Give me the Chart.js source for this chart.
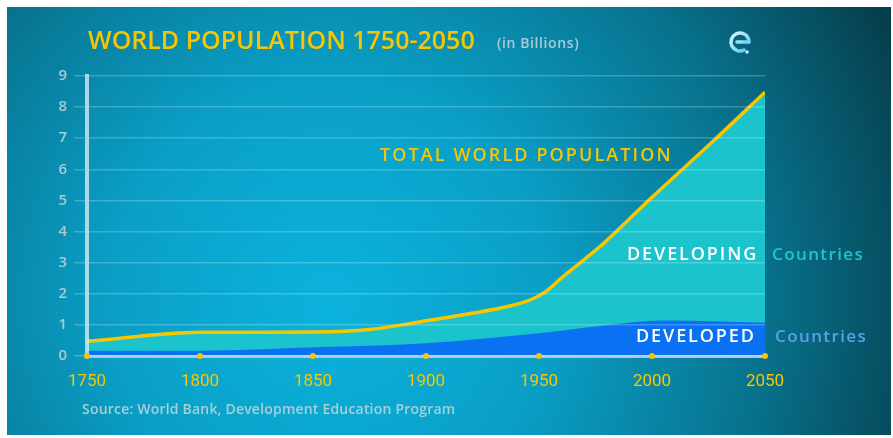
<!DOCTYPE html>
<html>
<head>
<meta charset="utf-8">
<script src="https://cdn.jsdelivr.net/npm/chart.js@4.4.0/dist/chart.umd.min.js"></script>
<style>
  html, body { margin: 0; padding: 0; background: #fff; }
  #wrap { width: 893px; height: 438px; }
</style>
</head>
<body>
<div id="wrap"><canvas id="popChart" width="893" height="438"></canvas></div>
<script>
// tahun dan nilai (miliar jiwa)
var totalYears = [1750, 1800, 1850, 1876, 1900, 1921, 1936, 1946, 1953, 1959, 1970, 1978, 2000, 2027, 2050];
var totalValues = [0.47, 0.76, 0.77, 0.86, 1.13, 1.38, 1.59, 1.8, 2.07, 2.45, 3.1, 3.58, 5.1, 6.9, 8.48];

var developedYears = [1750, 1800, 1850, 1900, 1950, 1978, 2005, 2050];
var developedValues = [0.17, 0.17, 0.28, 0.41, 0.73, 0.97, 1.14, 1.07];

var xTicks = [1750, 1800, 1850, 1900, 1950, 2000, 2050];
var yTicks = [0, 1, 2, 3, 4, 5, 6, 7, 8, 9];

function toPoints(xs, ys) {
    return xs.map(function (x, i) { return { x: x, y: ys[i] }; });
}

// latar belakang gradasi biru
var backgroundPlugin = {
    id: "bg",
    beforeDraw: function (chart) {
        var ctx = chart.ctx;
        ctx.save();
        ctx.fillStyle = "#ffffff";
        ctx.fillRect(0, 0, chart.width, chart.height);
        var g = ctx.createRadialGradient(330, 300, 0, 330, 300, 620);
        g.addColorStop(0, "#0bb3dc");
        g.addColorStop(0.35, "#0a9fc7");
        g.addColorStop(0.7, "#08728d");
        g.addColorStop(1, "#063f4d");
        ctx.fillStyle = g;
        ctx.fillRect(7, 7, 884, 428);
        ctx.restore();
    }
};

function spaced(ctx, text, x, y, spacing) {
    ctx.letterSpacing = spacing + "px";
    ctx.fillText(text, x, y);
    ctx.letterSpacing = "0px";
}

// teks judul, label dan titik kuning pada sumbu x
var textPlugin = {
    id: "texts",
    afterDraw: function (chart) {
        var ctx = chart.ctx;
        var xs = chart.scales.x;
        var ys = chart.scales.y;
        ctx.save();

        // titik kuning di sumbu x
        ctx.fillStyle = "#f6c700";
        xTicks.forEach(function (t) {
            ctx.beginPath();
            ctx.arc(xs.getPixelForValue(t), ys.getPixelForValue(0), 3, 0, Math.PI * 2);
            ctx.fill();
        });

        ctx.textBaseline = "middle";
        ctx.textAlign = "left";

        // judul
        ctx.fillStyle = "#f6c700";
        ctx.font = "600 25px 'Open Sans'";
        ctx.fillText("WORLD POPULATION 1750-2050", 88, 42);
        ctx.fillStyle = "#a9cbd6";
        ctx.font = "600 14px 'Open Sans'";
        spaced(ctx, "(in Billions)", 497, 44, 0.6);

        // sumber
        ctx.fillStyle = "#a9cfd9";
        ctx.font = "600 14px 'Open Sans'";
        spaced(ctx, "Source: World Bank, Development Education Program", 82, 410, 0.2);

        // label seri
        ctx.fillStyle = "#f6c700";
        ctx.font = "600 18px 'Open Sans'";
        spaced(ctx, "TOTAL WORLD POPULATION", 380, 156, 2.1);

        ctx.fillStyle = "#ffffff";
        ctx.font = "600 18px 'Open Sans'";
        spaced(ctx, "DEVELOPING", 627, 255, 1.9);
        spaced(ctx, "DEVELOPED", 636, 337, 1.9);

        ctx.font = "600 17px 'Open Sans'";
        ctx.fillStyle = "#1ec6cf";
        spaced(ctx, "Countries", 772, 255, 1.4);
        ctx.fillStyle = "#5b9ff0";
        spaced(ctx, "Countries", 775, 337, 1.4);

        // logo "e"
        var lx = 740, ly = 42;
        var lg = ctx.createLinearGradient(lx - 10, ly - 10, lx + 10, ly + 10);
        lg.addColorStop(0, "#e8fbff");
        lg.addColorStop(1, "#43c4ea");
        ctx.strokeStyle = lg;
        ctx.lineWidth = 3.5;
        ctx.lineCap = "round";
        ctx.beginPath();
        ctx.arc(lx, ly, 9, 0.35 * Math.PI, 2 * Math.PI, false);
        ctx.stroke();
        ctx.beginPath();
        ctx.moveTo(lx - 3, ly);
        ctx.lineTo(lx + 9, ly);
        ctx.stroke();
        ctx.fillStyle = "#bfefff";
        ctx.beginPath();
        ctx.arc(lx + 7, ly + 10, 1.8, 0, Math.PI * 2);
        ctx.fill();

        ctx.restore();
    }
};

var ctx = document.getElementById("popChart").getContext("2d");
var chart = new Chart(ctx, {
    type: "line",
    data: {
        datasets: [
            {
                label: "Developed",
                data: toPoints(developedYears, developedValues),
                borderWidth: 0,
                borderColor: "rgba(0,0,0,0)",
                backgroundColor: "#0a72f2",
                fill: "origin",
                pointRadius: 0,
                cubicInterpolationMode: "monotone"
            },
            {
                label: "Total",
                data: toPoints(totalYears, totalValues),
                borderWidth: 3.5,
                borderColor: "#f6c700",
                backgroundColor: "#1bc4cd",
                fill: "origin",
                pointRadius: 0,
                cubicInterpolationMode: "monotone"
            }
        ]
    },
    options: {
        responsive: false,
        animation: false,
        layout: { padding: { top: 76, right: 128, left: 0, bottom: 0 } },
        plugins: {
            legend: { display: false },
            tooltip: { enabled: false }
        },
        scales: {
            x: {
                type: "linear",
                min: 1750,
                max: 2050,
                afterBuildTicks: function (s) {
                    s.ticks = xTicks.map(function (v) { return { value: v }; });
                },
                afterFit: function (s) { s.height = 82; },
                grid: { display: false },
                border: { display: true, color: "#a9c6f7", width: 3, z: 1 },
                ticks: {
                    color: "#f6c700",
                    padding: 8,
                    font: { family: "Roboto", size: 17 },
                    callback: function (v) { return String(v); }
                }
            },
            y: {
                min: 0,
                max: 9,
                afterBuildTicks: function (s) {
                    s.ticks = yTicks.map(function (v) { return { value: v }; });
                },
                afterFit: function (s) { s.width = 87; },
                grid: {
                    color: "rgba(255,255,255,0.22)",
                    lineWidth: 1.5,
                    tickLength: 13,
                    z: 1
                },
                border: { display: true, color: "rgba(225,240,245,0.75)", width: 4, z: 1 },
                ticks: {
                    color: "#a9cbd6",
                    padding: 7,
                    font: { family: "'Open Sans'", size: 15, weight: "600" }
                }
            }
        }
    },
    plugins: [backgroundPlugin, textPlugin]
});
</script>
</body>
</html>
